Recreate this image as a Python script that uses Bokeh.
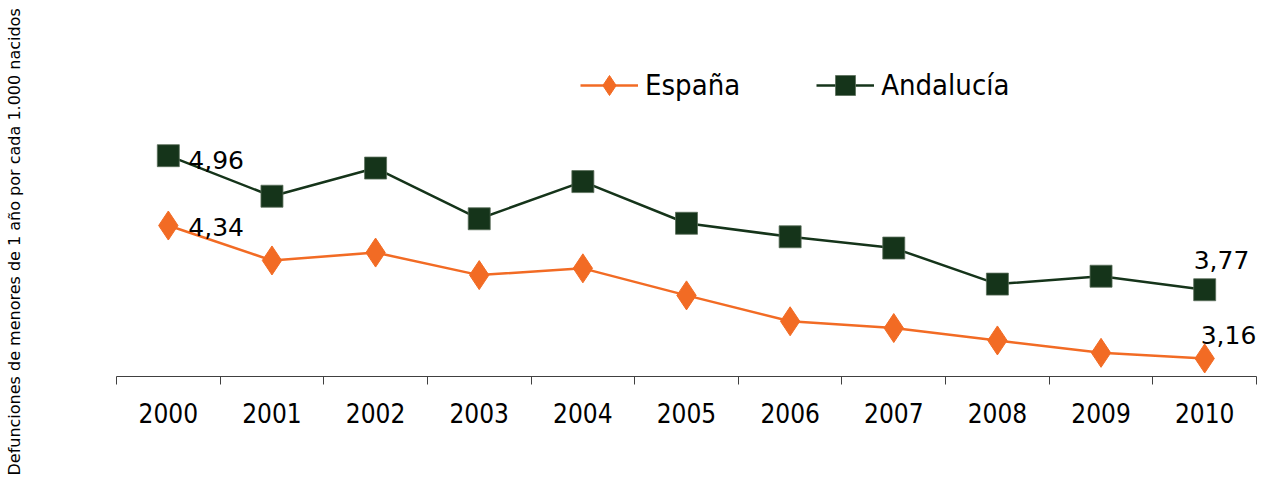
from bokeh.plotting import figure
from bokeh.models import FixedTicker, Legend, LegendItem, ColumnDataSource, LabelSet, Title
from bokeh.core.properties import value
from bokeh.embed import file_html
from bokeh.resources import INLINE

years = ["2000", "2001", "2002", "2003", "2004", "2005", "2006", "2007", "2008", "2009", "2010"]
espana = [4.34, 4.03, 4.10, 3.90, 3.96, 3.72, 3.49, 3.43, 3.32, 3.21, 3.16]
andalucia = [4.96, 4.60, 4.85, 4.40, 4.73, 4.36, 4.24, 4.14, 3.82, 3.89, 3.77]
series_names = ["España", "Andalucía"]
y_title = "Defunciones de menores de 1 año por cada 1.000 nacidos"

ORANGE = "#F26B24"
GREEN = "#15341A"

xs = [int(y) for y in years]

p = figure(width=1266, height=477, output_backend="svg", toolbar_location=None,
           x_range=(xs[0] - 0.5, xs[-1] + 0.5), y_range=(3.0, 6.0),
           min_border_left=116, min_border_right=10, min_border_top=38, min_border_bottom=101)
p.outline_line_color = None
p.xgrid.visible = False
p.ygrid.visible = False

# x axis: labels at years, ticks between years (minor ticks)
p.xaxis.ticker = FixedTicker(ticks=xs, minor_ticks=[x - 0.5 for x in xs] + [xs[-1] + 0.5])
p.xaxis.major_label_overrides = {x: y for x, y in zip(xs, years)}
p.xaxis.major_tick_out = 0
p.xaxis.major_tick_in = 0
p.xaxis.minor_tick_out = 8
p.xaxis.minor_tick_in = 0
p.xaxis.minor_tick_line_color = "#404040"
p.xaxis.axis_line_color = "#404040"
p.xaxis.major_label_standoff = 18
p.xaxis.major_label_text_font = "DejaVu Sans Condensed"
p.xaxis.major_label_text_font_size = "26px"
p.xaxis.major_label_text_color = "#000000"

# y axis: no ticks/line, used only as an empty spacer so the title sits at the page edge
p.yaxis.ticker = FixedTicker(ticks=[])
p.yaxis.axis_line_color = None
p.yaxis.major_tick_line_color = None
p.yaxis.minor_tick_line_color = None
p.yaxis.axis_label = " "
p.yaxis.axis_label_text_font_size = "16px"
p.yaxis.axis_label_standoff = 72

p.add_layout(Title(text=y_title, align="left", offset=-99, vertical_align="middle",
                   text_font="DejaVu Sans", text_font_size="16px", text_font_style="normal",
                   text_color="#000000", standoff=0), "left")

src = ColumnDataSource(dict(x=xs, es=espana, an=andalucia))

l1 = p.line("x", "es", source=src, line_color=ORANGE, line_width=2.5)
m1 = p.scatter("x", "es", source=src, marker="diamond", size=29, fill_color=ORANGE, line_color=ORANGE)
l2 = p.line("x", "an", source=src, line_color=GREEN, line_width=2.5)
m2 = p.scatter("x", "an", source=src, marker="square", size=22, fill_color=GREEN,
               line_color="#5a6e5a", line_width=0.8)

# data labels on first and last points
def fmt(v):
    return f"{v:.2f}".replace(".", ",")

lab_common = dict(text_font=value("DejaVu Sans"), text_font_size=value("25px"), text_color="#000000",
                  text_baseline="middle", text_align="left")
first = ColumnDataSource(dict(x=[xs[0], xs[0]], y=[andalucia[0], espana[0]],
                              t=[fmt(andalucia[0]), fmt(espana[0])], dy=[-4, -1], dx=[20, 20]))
last = ColumnDataSource(dict(x=[xs[-1], xs[-1]], y=[andalucia[-1], espana[-1]],
                             t=[fmt(andalucia[-1]), fmt(espana[-1])], dy=[30, 23], dx=[-11, -4]))
for s in (first, last):
    p.add_layout(LabelSet(x="x", y="y", text="t", source=s, x_offset="dx", y_offset="dy", **lab_common))

legend = Legend(items=[LegendItem(label=series_names[0], renderers=[l1, m1]),
                       LegendItem(label=series_names[1], renderers=[l2, m2])],
                orientation="horizontal", location=(464, 266))
legend.border_line_color = None
legend.background_fill_alpha = 0
legend.padding = 0
legend.margin = 0
legend.glyph_width = 58
legend.glyph_height = 50
legend.label_standoff = 7
legend.spacing = 76
legend.label_text_font = "DejaVu Sans Condensed"
legend.label_text_font_size = "29px"
legend.label_text_color = "#000000"
p.add_layout(legend, "center")

open("out.html", "w").write(file_html(p, INLINE))
